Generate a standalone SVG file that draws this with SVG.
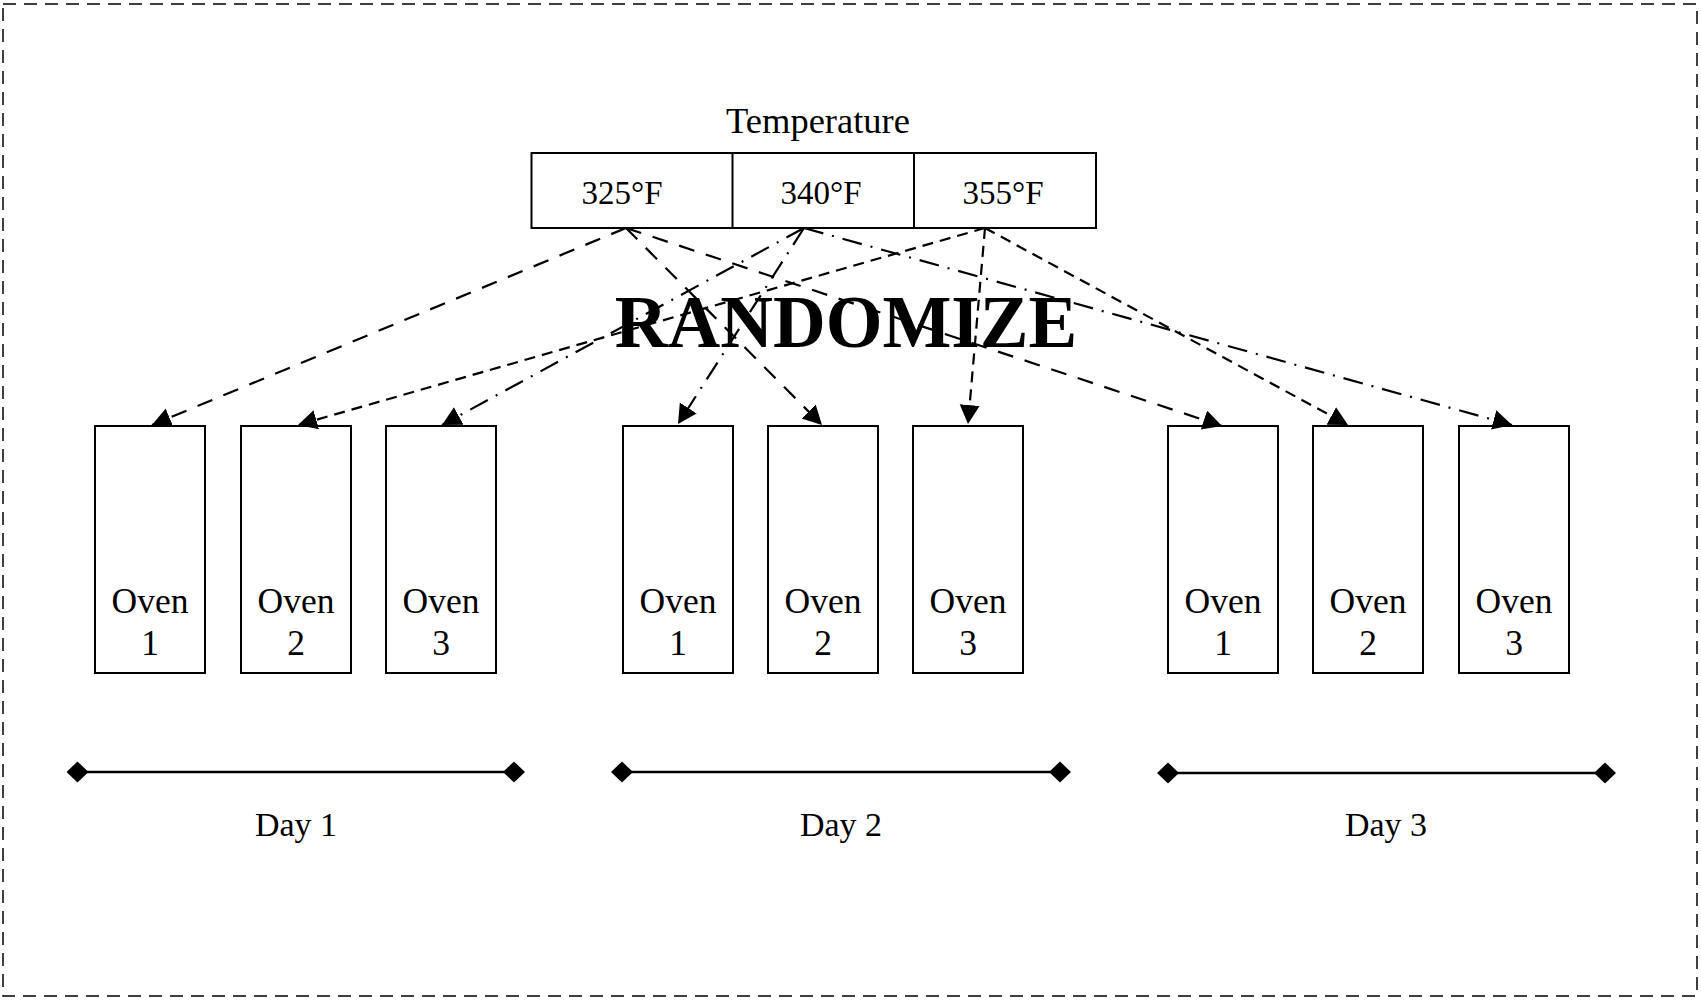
<svg xmlns="http://www.w3.org/2000/svg" width="1701" height="1001" viewBox="0 0 1701 1001">
<style>
  .t { font-family: "Liberation Serif", "DejaVu Serif", serif; fill: #000; text-anchor: middle; }
  .lbl { font-size: 34px; }
  .ov { font-size: 35.5px; }
  .hd { font-size: 36.5px; }
  .tmp { font-size: 33px; }
  .big { font-size: 73px; font-weight: bold; }
  .box { fill: #fff; stroke: #000; stroke-width: 2; }
  .conn { fill: none; stroke: #000; stroke-width: 2.2; marker-end: url(#arrow); }
  .d325 { stroke-dasharray: 16 12; }
  .d340 { stroke-dasharray: 20 9 2 9; }
  .d355 { stroke-dasharray: 11 7; }
  .day { stroke: #000; stroke-width: 2.5; marker-start: url(#dia); marker-end: url(#dia); }
</style>
<defs>
  <marker id="arrow" markerUnits="userSpaceOnUse" markerWidth="22" markerHeight="22" refX="19" refY="10" orient="auto">
    <path d="M0,0 L19,10 L0,20 z" fill="#000"/>
  </marker>
  <marker id="dia" markerUnits="userSpaceOnUse" markerWidth="22" markerHeight="22" refX="11" refY="11" orient="auto">
    <path d="M0,11 L11,0.5 L22,11 L11,21.5 z" fill="#000"/>
  </marker>
</defs>
<rect x="3" y="4" width="1694" height="992" fill="#fff" stroke="#000" stroke-width="1.5" stroke-dasharray="13 8"/>

<g id="temperature">
  <text class="t hd" x="818" y="133">Temperature</text>
  <rect class="box" x="531.5" y="153" width="564.5" height="75"/>
  <line x1="732.5" y1="153" x2="732.5" y2="228" stroke="#000" stroke-width="2"/>
  <line x1="914" y1="153" x2="914" y2="228" stroke="#000" stroke-width="2"/>
  <text class="t tmp" x="622" y="204">325°F</text>
  <text class="t tmp" x="821" y="204">340°F</text>
  <text class="t tmp" x="1003" y="204">355°F</text>
</g>

<g id="randomize">
  <text class="t big" x="846" y="347">RANDOMIZE</text>
</g>

<g id="day1-oven1"><rect class="box" x="95" y="426" width="110" height="247"/><text class="t ov" x="150" y="613">Oven</text><text class="t ov" x="150" y="655">1</text></g>
<g id="day1-oven2"><rect class="box" x="241" y="426" width="110" height="247"/><text class="t ov" x="296" y="613">Oven</text><text class="t ov" x="296" y="655">2</text></g>
<g id="day1-oven3"><rect class="box" x="386" y="426" width="110" height="247"/><text class="t ov" x="441" y="613">Oven</text><text class="t ov" x="441" y="655">3</text></g>
<g id="day2-oven1"><rect class="box" x="623" y="426" width="110" height="247"/><text class="t ov" x="678" y="613">Oven</text><text class="t ov" x="678" y="655">1</text></g>
<g id="day2-oven2"><rect class="box" x="768" y="426" width="110" height="247"/><text class="t ov" x="823" y="613">Oven</text><text class="t ov" x="823" y="655">2</text></g>
<g id="day2-oven3"><rect class="box" x="913" y="426" width="110" height="247"/><text class="t ov" x="968" y="613">Oven</text><text class="t ov" x="968" y="655">3</text></g>
<g id="day3-oven1"><rect class="box" x="1168" y="426" width="110" height="247"/><text class="t ov" x="1223" y="613">Oven</text><text class="t ov" x="1223" y="655">1</text></g>
<g id="day3-oven2"><rect class="box" x="1313" y="426" width="110" height="247"/><text class="t ov" x="1368" y="613">Oven</text><text class="t ov" x="1368" y="655">2</text></g>
<g id="day3-oven3"><rect class="box" x="1459" y="426" width="110" height="247"/><text class="t ov" x="1514" y="613">Oven</text><text class="t ov" x="1514" y="655">3</text></g>

<g id="connectors">
  <line class="conn d325" x1="626" y1="228" x2="152" y2="425"/>
  <line class="conn d325" x1="626" y1="228" x2="822" y2="425"/>
  <line class="conn d325" x1="626" y1="228" x2="1222" y2="426"/>
  <line class="conn d340" x1="804" y1="228" x2="442" y2="425"/>
  <line class="conn d340" x1="804" y1="228" x2="678" y2="424"/>
  <line class="conn d340" x1="804" y1="228" x2="1512" y2="425"/>
  <line class="conn d355" x1="985" y1="228" x2="298" y2="425"/>
  <line class="conn d355" x1="985" y1="228" x2="968" y2="424"/>
  <line class="conn d355" x1="985" y1="228" x2="1348" y2="425"/>
</g>

<g id="day1">
  <line class="day" x1="77.5" y1="772" x2="514" y2="772"/>
  <text class="t lbl" x="296" y="836">Day 1</text>
</g>
<g id="day2">
  <line class="day" x1="622" y1="772" x2="1060" y2="772"/>
  <text class="t lbl" x="841" y="836">Day 2</text>
</g>
<g id="day3">
  <line class="day" x1="1168" y1="773" x2="1605" y2="773"/>
  <text class="t lbl" x="1386" y="836">Day 3</text>
</g>
</svg>
